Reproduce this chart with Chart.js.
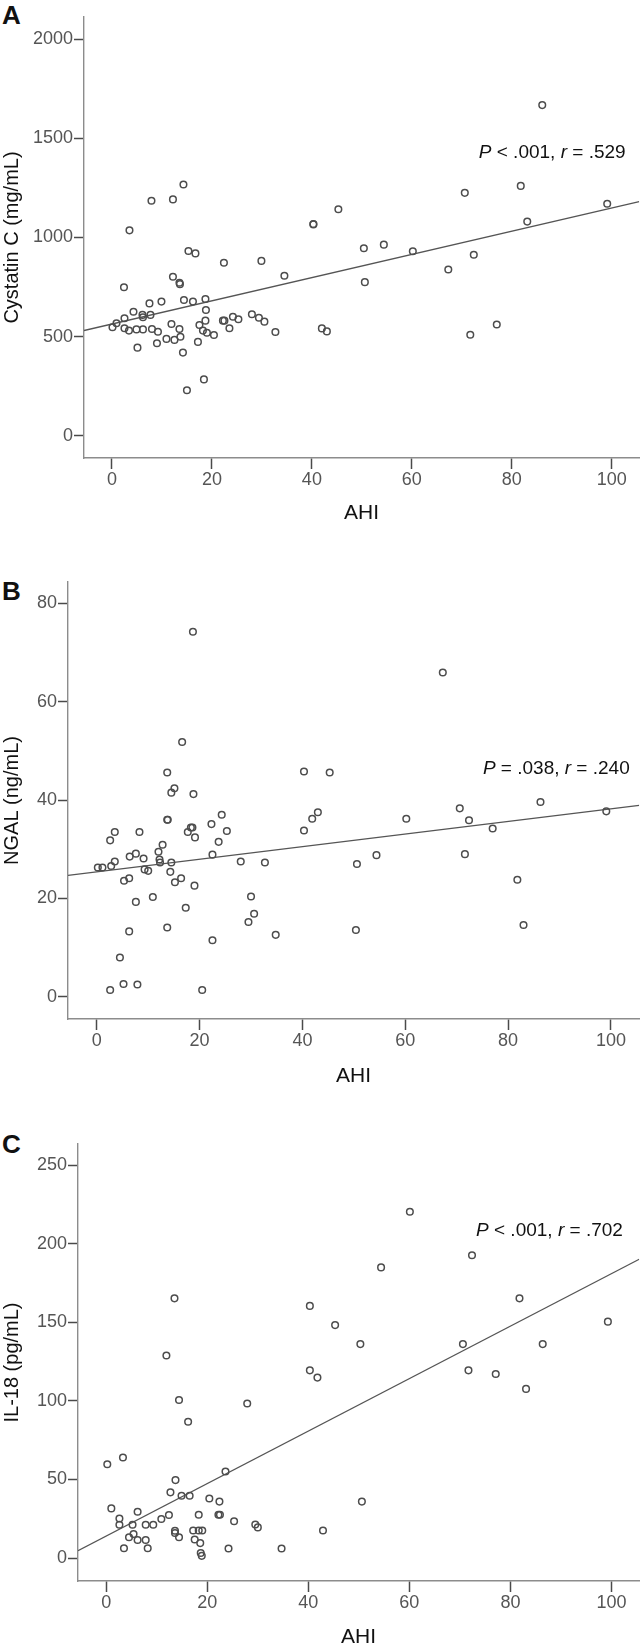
<!DOCTYPE html>
<html>
<head>
<meta charset="utf-8">
<title>Cystatin C, NGAL and IL-18 vs AHI</title>
<script src="https://cdn.jsdelivr.net/npm/chart.js@4.4.1/dist/chart.umd.min.js"></script>
<style>
  html, body { margin: 0; padding: 0; background: #fff; width: 644px; height: 1649px; overflow: hidden; }
  canvas { position: absolute; left: 0; }
  .tag { position: absolute; left: 2px; font: bold 26px/26px "Liberation Sans", Arial, sans-serif; color: #111; }
</style>
</head>
<body>
<div class="tag" style="top:2px;">A</div>
<canvas id="chartA" width="644" height="540" style="top:0px;"></canvas>
<div class="tag" style="top:578px;">B</div>
<canvas id="chartB" width="644" height="560" style="top:540px;"></canvas>
<div class="tag" style="top:1131px;">C</div>
<canvas id="chartC" width="644" height="564" style="top:1085px;"></canvas>

<script>
// ---- shared x axis (AHI) ----
const xTicks = [0, 20, 40, 60, 80, 100];
const xRange = [-5.6, 105.5];

// ---- A: Cystatin C ----
const ahiA = [0.1, 0.9, 2.5, 2.4, 2.5, 3.5, 3.4, 4.3, 4.9, 5.1, 6.1, 6.2, 6.2, 7.5, 7.7, 7.9, 8.0, 9.0, 9.2, 9.9,
  10.9, 11.9, 12.2, 12.2, 12.5, 13.5, 13.6, 13.5, 13.7, 14.3, 14.4, 14.2, 15.0, 15.3, 16.2, 16.7, 17.2, 17.5, 18.2, 18.4,
  18.7, 18.8, 18.7, 19.0, 20.4, 22.2, 22.5, 22.4, 23.5, 24.2, 25.3, 28.0, 29.4, 29.9, 30.5, 32.7, 34.5, 40.3, 40.3, 42.0,
  43.0, 45.3, 50.4, 50.6, 54.4, 60.2, 67.3, 70.6, 71.7, 72.4, 77.0, 81.8, 83.1, 86.1, 99.1];
const cystatinC = [548, 568, 593, 749, 543, 1036, 531, 626, 537, 445, 610, 598, 537, 668, 610, 1185, 539, 467, 525, 677,
  489, 564, 1192, 802, 484, 772, 765, 539, 500, 1267, 685, 420, 230, 932, 677, 920, 474, 559, 531, 285,
  690, 635, 581, 520, 509, 581, 581, 873, 543, 601, 588, 613, 596, 882, 576, 524, 807, 1066, 1068, 542,
  527, 1142, 946, 775, 964, 931, 839, 1225, 510, 913, 562, 1260, 1080, 1667, 1170];
const yTicksA = [0, 500, 1000, 1500, 2000];
const yRangeA = [-111, 2111];
const fitA = [564, 5.85];            // intercept, slope
const noteA = ['P', ' < .001, ', 'r', ' = .529'];
const notePosA = [73.4, 1426];

// ---- B: NGAL ----
const ahiB = [0.2, 1.1, 2.6, 2.6, 2.8, 3.5, 3.5, 4.5, 5.2, 5.3, 6.3, 6.3, 6.4, 7.6, 7.6, 7.9, 8.3, 9.1, 9.3, 10.0,
  10.9, 12.0, 12.2, 12.3, 12.8, 13.7, 13.7, 13.8, 13.7, 14.3, 14.5, 14.5, 15.1, 15.2, 16.4, 16.6, 17.3, 17.7, 18.3, 18.6,
  18.7, 18.8, 19.0, 19.1, 20.5, 22.3, 22.5, 22.5, 23.7, 24.3, 25.3, 28.0, 29.5, 30.0, 30.6, 32.7, 34.8, 40.3, 40.3, 41.9,
  43.0, 45.3, 50.4, 50.6, 54.4, 60.2, 67.3, 70.6, 71.6, 72.4, 77.0, 81.8, 83.0, 86.3, 99.1];
const ngal = [26.3, 26.3, 1.4, 31.8, 26.6, 33.5, 27.5, 8.0, 2.6, 23.6, 13.3, 24.1, 28.5, 19.3, 29.1, 2.5, 33.5, 28.1, 25.9, 25.6,
  20.3, 29.5, 27.9, 27.3, 30.9, 14.1, 36.0, 36.0, 45.6, 25.4, 41.5, 27.3, 42.4, 23.3, 24.1, 51.8, 18.1, 33.5, 34.4, 34.4,
  74.2, 41.2, 22.6, 32.4, 1.4, 35.1, 28.9, 11.5, 31.5, 37.0, 33.7, 27.5, 15.2, 20.4, 16.9, 27.3, 12.6, 45.8, 33.8, 36.2,
  37.5, 45.6, 13.6, 27.0, 28.8, 36.2, 65.9, 38.3, 29.0, 35.9, 34.2, 23.8, 14.6, 39.6, 37.7];
const yTicksB = [0, 20, 40, 60, 80];
const yRangeB = [-4.5, 84.3];
const fitB = [25.4, 0.128];
const noteB = ['P', ' = .038, ', 'r', ' = .240'];
const notePosB = [75.1, 46.3];

// ---- C: IL-18 ----
const ahiC = [0.2, 1.0, 2.6, 2.6, 3.3, 3.5, 4.5, 5.2, 5.4, 6.2, 6.2, 7.8, 7.8, 8.2, 9.3, 10.9, 11.9, 12.4, 12.7, 13.5,
  13.6, 13.6, 13.7, 14.4, 14.4, 14.9, 16.2, 16.5, 17.2, 17.5, 18.3, 18.3, 18.6, 18.7, 18.9, 19.0, 20.4, 22.2, 22.5, 22.4,
  23.6, 24.2, 25.3, 27.9, 29.5, 30.0, 34.7, 40.3, 40.3, 41.8, 42.9, 45.3, 50.3, 50.6, 54.4, 60.1, 70.6, 71.7, 72.4, 77.1,
  81.8, 83.1, 86.4, 99.3];
const il18 = [59.7, 31.6, 25.2, 21.2, 64.0, 6.2, 13.2, 21.2, 15.3, 11.5, 29.5, 21.2, 11.5, 6.2, 21.2, 24.8, 128.9, 27.4, 41.8, 165.2,
  17.4, 15.9, 49.6, 100.5, 13.2, 39.6, 86.7, 39.6, 17.5, 11.8, 27.5, 17.5, 9.5, 3.2, 1.4, 17.5, 37.9, 27.5, 27.5, 35.9,
  55.1, 6.1, 23.4, 98.3, 21.3, 19.5, 6.1, 160.4, 119.4, 114.8, 17.5, 148.2, 136.1, 35.9, 184.9, 220.3, 136.1, 119.4, 192.6, 117.1,
  165.2, 107.6, 136.1, 150.4];
const yTicksC = [0, 50, 100, 150, 200, 250];
const yRangeC = [-14.6, 263.4];
const fitC = [14.0, 1.669];
const noteC = ['P', ' < .001, ', 'r', ' = .702'];
const notePosC = [73.2, 208];

// pick the narrow face for tick labels if it is installed
function hasFont(name) {
  const c = document.createElement('canvas').getContext('2d');
  c.font = '40px monospace';
  const base = c.measureText('0123456789').width;
  c.font = '40px "' + name + '", monospace';
  return c.measureText('0123456789').width !== base;
}
const narrow = hasFont('Liberation Sans Narrow');
const tickFont = narrow
  ? { family: '"Liberation Sans Narrow", sans-serif', size: 20 }
  : { family: '"Liberation Sans", Arial, sans-serif', size: 18 };

Chart.defaults.font.family = '"Liberation Sans", Arial, sans-serif';
Chart.defaults.color = '#111';

// P / r annotation, italic letters
const notePlugin = {
  id: 'note',
  afterDatasetsDraw(chart, args, opts) {
    if (!opts || !opts.parts) return;
    const ctx = chart.ctx;
    let x = chart.scales.x.getPixelForValue(opts.at[0]);
    const y = chart.scales.y.getPixelForValue(opts.at[1]);
    ctx.save();
    ctx.fillStyle = '#111';
    ctx.textBaseline = 'middle';
    ctx.textAlign = 'left';
    opts.parts.forEach((t, i) => {
      ctx.font = (i % 2 === 0 ? 'italic ' : '') + '19px "Liberation Sans", Arial, sans-serif';
      ctx.fillText(t, x, y);
      x += ctx.measureText(t).width;
    });
    ctx.restore();
  }
};

function makeChart(id, xs, ys, yTicks, yRange, fit, note, notePos, yTitle, box) {
  const pts = xs.map((v, i) => ({ x: v, y: ys[i] }));
  const line = xRange.map(v => ({ x: v, y: fit[0] + fit[1] * v }));
  const canvas = document.getElementById(id);
  const H = canvas.height;

  return new Chart(canvas, {
    type: 'scatter',
    data: {
      datasets: [
        {
          data: pts,
          pointRadius: 3.3,
          pointHoverRadius: 3.3,
          pointBorderWidth: 1.5,
          pointBorderColor: '#4d4d4d',
          pointBackgroundColor: 'rgba(0,0,0,0)'
        },
        {
          type: 'line',
          data: line,
          showLine: true,
          pointRadius: 0,
          borderColor: '#555',
          borderWidth: 1.3,
          fill: false
        }
      ]
    },
    options: {
      responsive: false,
      animation: false,
      events: [],
      layout: { padding: { top: box.top, right: 2, left: 0, bottom: 0 } },
      plugins: {
        legend: { display: false },
        tooltip: { enabled: false },
        note: { parts: note, at: notePos }
      },
      scales: {
        x: {
          type: 'linear',
          min: xRange[0],
          max: xRange[1],
          afterBuildTicks: s => { s.ticks = xTicks.map(v => ({ value: v })); },
          afterFit: s => { s.height = H - box.bottom; },
          ticks: { font: tickFont, color: '#555', padding: 0, maxRotation: 0, autoSkip: false, callback: v => String(v) },
          grid: { drawOnChartArea: false, drawTicks: true, tickLength: 11, tickColor: '#4a4a4a', tickWidth: 1.5 },
          border: { display: true, color: '#8c8c8c', width: 1.4 },
          title: {
            display: true, text: 'AHI', color: '#111',
            font: { size: 21, lineHeight: 1 },
            padding: { top: 0, bottom: box.xTitle }
          }
        },
        y: {
          type: 'linear',
          min: yRange[0],
          max: yRange[1],
          afterBuildTicks: s => { s.ticks = yTicks.map(v => ({ value: v })); },
          afterFit: s => { s.width = box.left; },
          ticks: { font: tickFont, color: '#555', padding: 1, autoSkip: false, callback: v => String(v) },
          grid: { drawOnChartArea: false, drawTicks: true, tickLength: 10, tickColor: '#4a4a4a', tickWidth: 1.5 },
          border: { display: true, color: '#8c8c8c', width: 1.4 },
          title: {
            display: true, text: yTitle, color: '#111',
            font: { size: 20, lineHeight: 1 },
            padding: { top: 2.5, bottom: 0 }
          }
        }
      }
    },
    plugins: [notePlugin]
  });
}

makeChart('chartA', ahiA, cystatinC, yTicksA, yRangeA, fitA, noteA, notePosA, 'Cystatin C (mg/mL)',
  { top: 17, bottom: 458, left: 84, xTitle: 16 });
makeChart('chartB', ahiB, ngal, yTicksB, yRangeB, fitB, noteB, notePosB, 'NGAL (ng/mL)',
  { top: 42, bottom: 479, left: 68, xTitle: 13 });
makeChart('chartC', ahiC, il18, yTicksC, yRangeC, fitC, noteC, notePosC, 'IL-18 (pg/mL)',
  { top: 59, bottom: 496, left: 78, xTitle: 1 });
</script>
</body>
</html>
